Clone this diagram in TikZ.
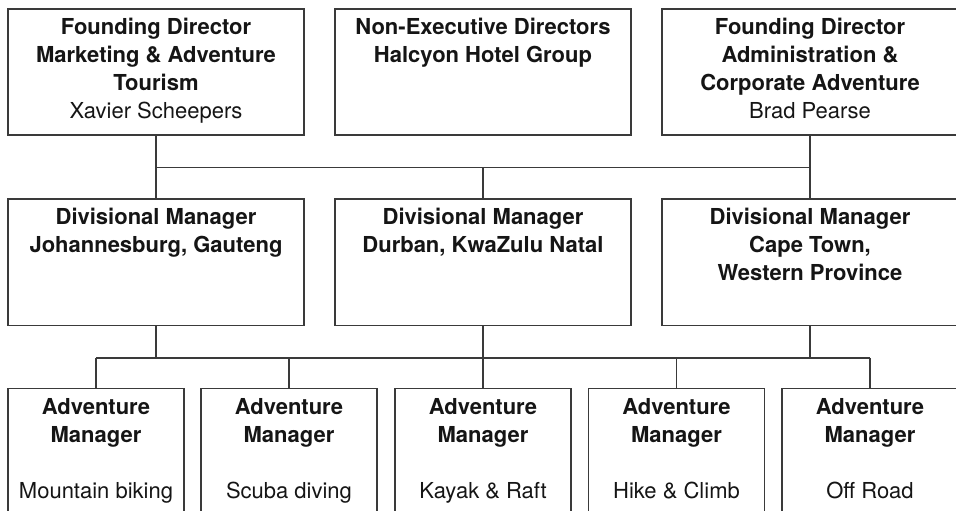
\documentclass[tikz,border=0pt]{standalone}
\usepackage{fontspec}
\setmainfont{TeX Gyre Heros}
\definecolor{linec}{HTML}{3A3A3A}
\definecolor{txtc}{HTML}{151515}
\newcommand{\orgtext}[3]{\parbox[t][#2][t]{#1}{\centering\fontsize{22}{28}\selectfont\color{txtc}\rule{0pt}{26pt}#3\par}}
\begin{document}
\begin{tikzpicture}[x=1pt,y=-1pt,
  orgbox/.style={draw=linec, line width=1.5pt, inner sep=0pt, outer sep=0pt},
  conn/.style={draw=linec, line width=1.5pt}]
\useasboundingbox (0,0) rectangle (956,511);
\clip (0,0) rectangle (956,511);
% top row
\node[orgbox] (f1) at (156,72) {\orgtext{296pt}{126pt}{\textbf{Founding Director}\\\textbf{Marketing \& Adventure}\\\textbf{Tourism}\\Xavier Scheepers}};
\node[orgbox] (f2) at (483,72) {\orgtext{296pt}{126pt}{\textbf{Non-Executive Directors}\\\textbf{Halcyon Hotel Group}}};
\node[orgbox] (f3) at (810,72) {\orgtext{296pt}{126pt}{\textbf{Founding Director}\\\textbf{Administration \&}\\\textbf{Corporate Adventure}\\Brad Pearse}};
% middle row
\node[orgbox] (d1) at (156,262) {\orgtext{296pt}{126.5pt}{\textbf{Divisional Manager}\\\textbf{Johannesburg, Gauteng}}};
\node[orgbox] (d2) at (483,262) {\orgtext{296pt}{126.5pt}{\textbf{Divisional Manager}\\\textbf{Durban, KwaZulu Natal}}};
\node[orgbox] (d3) at (810,262) {\orgtext{296pt}{126.5pt}{\textbf{Divisional Manager}\\\textbf{Cape Town,}\\\textbf{Western Province}}};
% bottom row
\node[orgbox] (a1) at (96,451.7) {\orgtext{176pt}{126pt}{\textbf{Adventure}\\\textbf{Manager}\\[28pt]Mountain biking}};
\node[orgbox] (a2) at (289,451.7) {\orgtext{176pt}{126pt}{\textbf{Adventure}\\\textbf{Manager}\\[28pt]Scuba diving}};
\node[orgbox] (a3) at (483,451.7) {\orgtext{176pt}{126pt}{\textbf{Adventure}\\\textbf{Manager}\\[28pt]Kayak \& Raft}};
\node[orgbox] (a4) at (676.5,451.7) {\orgtext{176pt}{126pt}{\textbf{Adventure}\\\textbf{Manager}\\[28pt]Hike \& Climb}};
\node[orgbox] (a5) at (870,451.7) {\orgtext{176pt}{126pt}{\textbf{Adventure}\\\textbf{Manager}\\[28pt]Off Road}};
% connectors top -> middle
\path (f1.south) ++(0,32.5) coordinate (t1);
\path (f3.south) ++(0,32.5) coordinate (t3);
\draw[conn] (f1.south) -- (d1.north);
\draw[conn] (f3.south) -- (d3.north);
\draw[conn] (t1) -- (t3);
\draw[conn] (t1 -| d2.north) -- (d2.north);
% connectors middle -> bottom
\path (d1.south) ++(0,32.5) coordinate (m1);
\draw[conn] (d1.south) -- (m1);
\draw[conn] (d2.south) -- (a3.north);
\draw[conn] (d3.south) -- (m1 -| d3.south);
\draw[conn] (m1 -| a1.north) -- (m1 -| a5.north);
\draw[conn] (m1 -| a1.north) -- (a1.north);
\draw[conn] (m1 -| a2.north) -- (a2.north);
\draw[conn] (m1 -| a4.north) -- (a4.north);
\draw[conn] (m1 -| a5.north) -- (a5.north);
\end{tikzpicture}
\end{document}
